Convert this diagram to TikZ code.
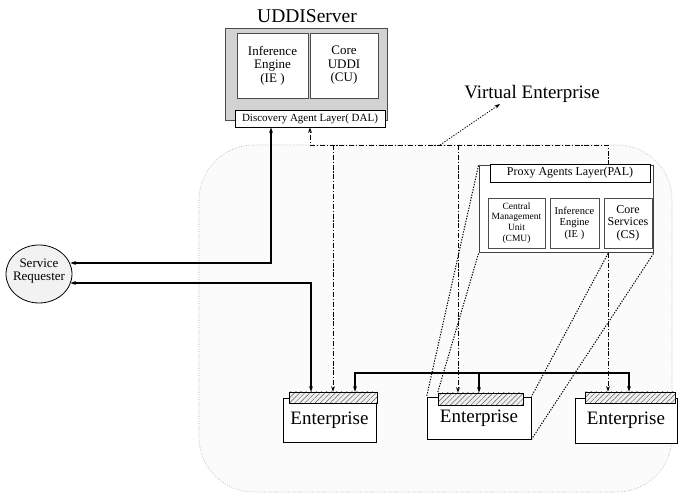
\documentclass[tikz,border=0pt]{standalone}
\usepackage{fontspec}
\setmainfont{Liberation Serif}
\usetikzlibrary{arrows.meta,patterns.meta,shapes.geometric}
\newcommand{\fsz}[2]{\fontsize{#1}{#2}\selectfont}
\begin{document}
\begin{tikzpicture}[x=1pt,y=-1pt,>={Stealth[length=5.5pt,width=3.8pt]},
  rect/.style={draw, inner sep=0pt, align=center},
  inbox/.style={rect, fill=white, draw=gray!60!black, line width=0.9pt},
  ebox/.style={rect, fill=white, line width=0.8pt, font=\fsz{19}{22}},
  ebar/.style={draw, inner sep=0pt, line width=0.7pt, preaction={fill=gray!12},
    pattern={Lines[angle=45,distance=3.6pt,line width=0.45pt]}, pattern color=gray!70!black},
  sol/.style={line width=1.1pt},
  dd/.style={line width=0.9pt, dash pattern=on 5pt off 1.8pt on 1.2pt off 1.8pt},
  proj/.style={line width=1pt, dash pattern=on 1.3pt off 1.4pt},
  region/.style={gray!60, line width=0.6pt, dash pattern=on 0.8pt off 1.6pt, fill=gray!3, rounded corners=55pt}]
\useasboundingbox (0,0) rectangle (678,494);
\fill[white] (0,0) rectangle (678,494);
% virtual enterprise region
\draw[region] (199,145) rectangle (672,492);

% UDDI server
\node[font=\fsz{19.5}{22}] (udditl) at (307,16) {UDDIServer};
\node[rect, fill=gray!35, draw=gray!60!black, line width=0.8pt, minimum width=162pt, minimum height=92pt] (uddi) at (306,74) {};
\node[inbox, minimum width=71pt, minimum height=65pt, font=\fsz{13}{13.5}] (ie) at (272.5,65.5) {Inference\\Engine\\(IE )};
\node[inbox, minimum width=68pt, minimum height=65pt, font=\fsz{13}{13.5}] (cu) at (344,65.5) {Core\\UDDI\\(CU)};
\node[rect, fill=white, line width=0.8pt, minimum width=150pt, minimum height=17pt, font=\fsz{11}{12}] (dal) at (310,118.5) {Discovery Agent Layer( DAL)};

% virtual enterprise label
\node[font=\fsz{19}{22}] (ve) at (532,94) {Virtual Enterprise};

% proxy agents layer
\node[rect, fill=white, draw=gray!50!black, line width=1pt, minimum width=174pt, minimum height=87pt] (pal) at (566,209.5) {};
\node[rect, fill=white, line width=0.8pt, minimum width=160pt, minimum height=18pt, font=\fsz{12}{13}] (pall) at (570,173) {Proxy Agents Layer(PAL)};
\node[inbox, minimum width=57pt, minimum height=50pt, font=\fsz{9.5}{10.8}] (cmu) at (516.5,223) {Central\\Management\\Unit\\(CMU)};
\node[inbox, minimum width=49pt, minimum height=50pt, font=\fsz{10.5}{11.5}] (ie2) at (574.5,223) {Inference\\Engine\\(IE )};
\node[inbox, minimum width=48pt, minimum height=50pt, font=\fsz{12}{12.5}] (cs) at (628,223) {Core\\Services\\(CS)};

% service requester
\node[ellipse, draw, line width=0.8pt, fill=gray!10, inner sep=0pt, minimum width=66pt, minimum height=58pt] (sr) at (39,274) {};
\node[font=\fsz{13}{13}, align=center, inner sep=0pt] (srt) at (39,271) {Service\\Requester};

% enterprises
\node[ebox, minimum width=93pt, minimum height=44pt] (e1) at (329.5,420) {Enterprise};
\node[ebar, minimum width=88pt, minimum height=11pt] (e1bar) at (333,397.5) {};
\node[ebox, minimum width=104pt, minimum height=42pt] (e2) at (479,418) {Enterprise};
\node[ebar, minimum width=85pt, minimum height=12pt] (e2bar) at (480.5,399) {};
\node[ebox, minimum width=102pt, minimum height=45pt] (e3) at (626,420.5) {Enterprise};
\node[ebar, minimum width=90pt, minimum height=11pt] (e3bar) at (630,397.5) {};

% coordinates for bends
\coordinate (s1) at (271,263);
\coordinate (s2) at (311,283);
\coordinate (dl) at (310,145);
\coordinate (b1) at (333,145);
\coordinate (b2) at (458,145);
\coordinate (ddr) at (608,145);
\coordinate (bL) at (355,373);
\coordinate (bM) at (479,373);
\coordinate (bR) at (629,373);
\coordinate (va) at (440,145);
\coordinate (vt) at (500,104);

% solid connectors
\draw[sol,<->,shorten <=-2pt] (s1 -| sr.east) -- (s1) -- (s1 |- dal.south);
\draw[sol,<->,shorten <=-2pt] (s2 -| sr.east) -- (s2) -- (s2 |- e1bar.north);
\draw[sol,<->] (bL |- e1bar.north) -- (bL) -- (bR) -- (bR |- e3bar.north);
\draw[sol,->] (bM) -- (bM |- e2bar.north);

% dash-dot connectors
\draw[dd,->] (ddr |- pal.north) -- (ddr) -- (dl) -- (dl |- dal.south);
\draw[dd,->] (b1) -- (b1 |- e1bar.north);
\draw[dd,->] (b2) -- (b2 |- e2bar.north);
\draw[dd,->] (ddr |- pal.south) -- (ddr |- e3bar.north);

% projection lines
\draw[proj] (pal.north west) -- (e2.north west);
\draw[proj] (pal.south west) -- (e2bar.north west);
\draw[proj] (ddr |- pal.south) -- (e2.north east);
\draw[proj] (pal.south east) -- (e2.south east);

% virtual enterprise pointer
\draw[proj,line width=0.8pt,->] (va) -- (vt);
\end{tikzpicture}
\end{document}
